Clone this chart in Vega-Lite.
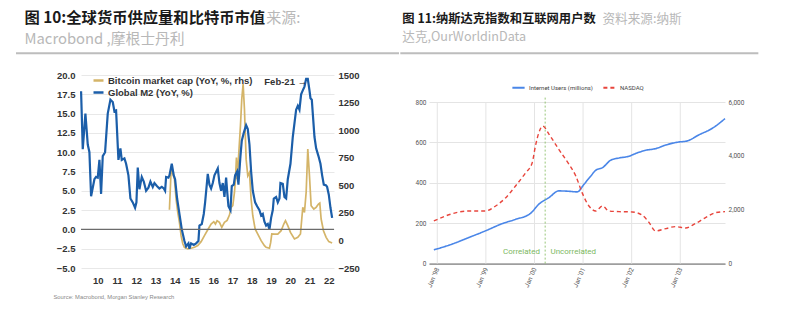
{
  "$schema": "https://vega.github.io/schema/vega-lite/v6.json",
  "background": "white",
  "padding": {"left": 14, "top": 11, "right": 0, "bottom": 0},
  "spacing": -2,
  "config": {"view": {"stroke": null}, "font": "Liberation Sans", "scale": {"nice": false}},
  "resolve": {"scale": {"color": "independent", "strokeDash": "independent"}, "legend": {"color": "independent", "strokeDash": "independent"}},
  "datasets": {
    "m2": [
      {"t":9.134,"v":17.9},{"t":9.221,"v":10.4},{"t":9.359,"v":15.0},{"t":9.481,"v":11.0},{"t":9.567,"v":10.0},{"t":9.654,"v":4.3},{"t":9.827,"v":6.5},{"t":9.913,"v":6.8},{"t":10.0,"v":6.7},{"t":10.087,"v":9.0},{"t":10.173,"v":4.6},{"t":10.26,"v":9.5},{"t":10.381,"v":10.0},{"t":10.519,"v":15.0},{"t":10.658,"v":16.8},{"t":10.779,"v":16.5},{"t":10.866,"v":15.3},{"t":10.952,"v":15.4},{"t":11.074,"v":9.0},{"t":11.177,"v":10.5},{"t":11.247,"v":9.0},{"t":11.385,"v":9.2},{"t":11.472,"v":8.5},{"t":11.593,"v":7.0},{"t":11.697,"v":4.0},{"t":11.818,"v":3.5},{"t":11.939,"v":2.8},{"t":12.009,"v":3.5},{"t":12.078,"v":8.0},{"t":12.165,"v":5.2},{"t":12.286,"v":6.8},{"t":12.39,"v":6.2},{"t":12.511,"v":5.0},{"t":12.632,"v":5.4},{"t":12.736,"v":6.2},{"t":12.857,"v":5.5},{"t":12.944,"v":6.0},{"t":13.082,"v":5.6},{"t":13.203,"v":5.3},{"t":13.325,"v":5.5},{"t":13.429,"v":5.3},{"t":13.498,"v":5.0},{"t":13.55,"v":6.8},{"t":13.671,"v":6.7},{"t":13.723,"v":7.0},{"t":13.844,"v":8.5},{"t":13.948,"v":7.0},{"t":14.017,"v":6.5},{"t":14.121,"v":4.0},{"t":14.242,"v":2.0},{"t":14.364,"v":0.0},{"t":14.502,"v":-1.5},{"t":14.589,"v":-2.2},{"t":14.71,"v":-1.8},{"t":14.762,"v":-2.5},{"t":14.848,"v":-1.8},{"t":14.987,"v":-2.0},{"t":15.108,"v":-1.8},{"t":15.229,"v":-1.5},{"t":15.281,"v":0.5},{"t":15.403,"v":0.7},{"t":15.506,"v":2.0},{"t":15.576,"v":3.5},{"t":15.714,"v":7.2},{"t":15.801,"v":5.8},{"t":15.887,"v":5.3},{"t":15.974,"v":6.0},{"t":16.061,"v":7.0},{"t":16.234,"v":7.9},{"t":16.32,"v":6.0},{"t":16.407,"v":5.0},{"t":16.494,"v":6.0},{"t":16.58,"v":4.2},{"t":16.667,"v":6.7},{"t":16.719,"v":5.0},{"t":16.788,"v":3.0},{"t":16.892,"v":2.5},{"t":16.961,"v":5.6},{"t":17.065,"v":5.8},{"t":17.134,"v":7.0},{"t":17.238,"v":7.5},{"t":17.307,"v":5.8},{"t":17.411,"v":9.5},{"t":17.48,"v":11.5},{"t":17.584,"v":12.5},{"t":17.706,"v":13.5},{"t":17.792,"v":13.0},{"t":17.879,"v":11.0},{"t":17.965,"v":7.5},{"t":18.052,"v":5.0},{"t":18.173,"v":3.5},{"t":18.277,"v":3.0},{"t":18.398,"v":2.5},{"t":18.485,"v":1.8},{"t":18.571,"v":2.0},{"t":18.658,"v":1.0},{"t":18.745,"v":0.5},{"t":18.831,"v":0.7},{"t":18.918,"v":0.0},{"t":19.004,"v":1.5},{"t":19.091,"v":2.5},{"t":19.143,"v":4.0},{"t":19.264,"v":4.2},{"t":19.351,"v":3.5},{"t":19.437,"v":4.0},{"t":19.489,"v":6.0},{"t":19.61,"v":5.9},{"t":19.697,"v":4.2},{"t":19.784,"v":4.0},{"t":19.87,"v":6.5},{"t":20.009,"v":8.5},{"t":20.13,"v":12.0},{"t":20.303,"v":15.5},{"t":20.39,"v":16.0},{"t":20.476,"v":15.5},{"t":20.563,"v":17.5},{"t":20.649,"v":18.0},{"t":20.736,"v":18.5},{"t":20.823,"v":19.5},{"t":20.909,"v":19.5},{"t":20.996,"v":18.0},{"t":21.048,"v":17.0},{"t":21.117,"v":16.8},{"t":21.169,"v":15.0},{"t":21.255,"v":12.0},{"t":21.342,"v":10.5},{"t":21.463,"v":9.5},{"t":21.567,"v":8.5},{"t":21.654,"v":7.0},{"t":21.74,"v":5.8},{"t":21.861,"v":5.7},{"t":21.913,"v":5.5},{"t":22.0,"v":4.5},{"t":22.087,"v":2.8},{"t":22.173,"v":1.5}
    ],
    "btc": [
      {"t":13.723,"cap":278},{"t":13.81,"cap":640},{"t":13.844,"cap":631},{"t":13.983,"cap":556},{"t":14.069,"cap":375},{"t":14.156,"cap":254},{"t":14.242,"cap":163},{"t":14.329,"cap":43},{"t":14.416,"cap":-30},{"t":14.502,"cap":-62},{"t":14.675,"cap":-77},{"t":14.848,"cap":-71},{"t":15.022,"cap":-62},{"t":15.195,"cap":-47},{"t":15.368,"cap":-11},{"t":15.541,"cap":43},{"t":15.714,"cap":97},{"t":15.887,"cap":149},{"t":16.026,"cap":170},{"t":16.113,"cap":149},{"t":16.199,"cap":179},{"t":16.32,"cap":164},{"t":16.442,"cap":118},{"t":16.58,"cap":164},{"t":16.719,"cap":182},{"t":16.84,"cap":230},{"t":16.926,"cap":300},{"t":17.013,"cap":315},{"t":17.1,"cap":435},{"t":17.152,"cap":556},{"t":17.203,"cap":752},{"t":17.238,"cap":556},{"t":17.307,"cap":737},{"t":17.411,"cap":1039},{"t":17.48,"cap":1281},{"t":17.55,"cap":1417},{"t":17.619,"cap":1190},{"t":17.706,"cap":737},{"t":17.792,"cap":586},{"t":17.879,"cap":616},{"t":17.965,"cap":375},{"t":18.052,"cap":224},{"t":18.173,"cap":104},{"t":18.312,"cap":58},{"t":18.485,"cap":-2},{"t":18.658,"cap":-47},{"t":18.745,"cap":-62},{"t":18.918,"cap":-71},{"t":18.98,"cap":-20},{"t":19.039,"cap":60},{"t":19.177,"cap":58},{"t":19.351,"cap":58},{"t":19.524,"cap":88},{"t":19.662,"cap":149},{"t":19.749,"cap":179},{"t":19.87,"cap":134},{"t":20.009,"cap":73},{"t":20.216,"cap":13},{"t":20.39,"cap":28},{"t":20.528,"cap":58},{"t":20.649,"cap":300},{"t":20.736,"cap":254},{"t":20.823,"cap":435},{"t":20.909,"cap":828},{"t":20.996,"cap":586},{"t":21.082,"cap":315},{"t":21.221,"cap":285},{"t":21.342,"cap":300},{"t":21.463,"cap":330},{"t":21.532,"cap":339},{"t":21.602,"cap":194},{"t":21.723,"cap":88},{"t":21.861,"cap":28},{"t":22.0,"cap":-11},{"t":22.173,"cap":-23}
    ],
    "users": [
      {"t":1997.93,"v":68},{"t":1998.31,"v":97},{"t":1998.65,"v":129},{"t":1998.99,"v":162},{"t":1999.34,"v":198},{"t":1999.61,"v":219},{"t":1999.92,"v":249},{"t":2000.09,"v":294},{"t":2000.3,"v":327},{"t":2000.5,"v":360},{"t":2000.71,"v":358},{"t":2000.88,"v":355},{"t":2001.02,"v":393},{"t":2001.16,"v":434},{"t":2001.26,"v":462},{"t":2001.4,"v":475},{"t":2001.57,"v":512},{"t":2001.74,"v":523},{"t":2001.94,"v":531},{"t":2002.08,"v":545},{"t":2002.29,"v":561},{"t":2002.49,"v":569},{"t":2002.7,"v":587},{"t":2002.94,"v":601},{"t":2003.14,"v":607},{"t":2003.38,"v":637},{"t":2003.66,"v":670},{"t":2003.92,"v":718}
    ],
    "nasdaq": [
      {"t":1997.93,"n":1583},{"t":1998.17,"n":1769},{"t":1998.45,"n":1917},{"t":1998.65,"n":1954},{"t":1998.99,"n":1954},{"t":1999.2,"n":2140},{"t":1999.41,"n":2449},{"t":1999.61,"n":2882},{"t":1999.82,"n":3377},{"t":1999.95,"n":3723},{"t":2000.02,"n":4367},{"t":2000.09,"n":4861},{"t":2000.17,"n":5109},{"t":2000.3,"n":4800},{"t":2000.5,"n":4243},{"t":2000.71,"n":3686},{"t":2000.85,"n":3253},{"t":2000.98,"n":2635},{"t":2001.12,"n":2140},{"t":2001.26,"n":1954},{"t":2001.4,"n":2140},{"t":2001.53,"n":1954},{"t":2001.74,"n":1930},{"t":2002.01,"n":1917},{"t":2002.22,"n":1794},{"t":2002.36,"n":1521},{"t":2002.49,"n":1212},{"t":2002.7,"n":1299},{"t":2002.9,"n":1373},{"t":2003.11,"n":1324},{"t":2003.32,"n":1497},{"t":2003.52,"n":1707},{"t":2003.73,"n":1893},{"t":2003.92,"n":1930}
    ]
  },
  "hconcat": [
    {
      "width": 253,
      "height": 193,
      "title": {
        "text": "图 10:全球货币供应量和比特币市值",
        "subtitle": "Macrobond ,摩根士丹利",
        "anchor": "start", "frame": "group", "dx": -56.5, "offset": -35.1,
        "font": "Noto Sans CJK SC", "fontSize": 15.3, "fontWeight": "bold", "color": "#1a1a1a",
        "subtitleFont": "Noto Sans CJK SC", "subtitleFontSize": 14.8, "subtitleColor": "#b8b8b8", "subtitlePadding": 5
      },
      "encoding": {
        "x": {"field": "t", "type": "quantitative", "scale": {"domain": [9.13, 22.27], "nice": false},
          "axis": {"values": [10,11,12,13,14,15,16,17,18,19,20,21,22], "format": "d", "grid": false, "domain": false, "ticks": false, "labelOverlap": false,
            "labelFont": "Liberation Sans", "labelFontSize": 9.5, "labelFontWeight": "bold", "labelColor": "#333", "labelPadding": 7,
            "title": "Source: Macrobond, Morgan Stanley Research", "titleFont": "Liberation Sans", "titleFontSize": 5.8, "titleFontWeight": "normal",
            "titleColor": "#888", "titleX": -28, "titleY": 28.7, "titleAlign": "left", "titleBaseline": "middle", "titleAnchor": "start"}}
      },
      "layer": [
        {
          "data": {"name": "btc"},
          "transform": [{"calculate": "'Bitcoin market cap (YoY, %, rhs)'", "as": "series"}],
          "mark": {"type": "line", "strokeWidth": 1.7},
          "encoding": {
            "y": {"field": "cap", "type": "quantitative", "scale": {"domain": [-250, 1500], "nice": false},
              "axis": {"orient": "right", "values": [-250,0,250,500,750,1000,1250,1500], "format": "d", "grid": false, "domain": false, "ticks": false, "labelOverlap": false,
                "labelFontSize": 9.5, "labelFontWeight": "bold", "labelColor": "#333", "labelPadding": 4, "title": null}},
            "color": {"field": "series", "type": "nominal",
              "scale": {"domain": ["Bitcoin market cap (YoY, %, rhs)", "Global M2 (YoY, %)"], "range": ["#d4b468", "#1b5ea9"]},
              "legend": {"orient": "none", "legendX": 11, "legendY": -1, "title": null, "symbolType": "stroke", "symbolSize": 100, "symbolStrokeWidth": 2.5,
                "labelFont": "Liberation Sans", "labelFontSize": 9.5, "labelFontWeight": "bold", "labelColor": "#333", "rowPadding": -1, "labelOffset": 3, "padding": 0}}
          }
        },
        {
          "encoding": {
            "y": {"field": "v", "type": "quantitative", "scale": {"domain": [-5, 20], "nice": false},
              "axis": {"orient": "left", "values": [-5,-2.5,0,2.5,5,7.5,10,12.5,15,17.5,20], "format": ".1f", "grid": true, "gridColor": "#e2e2e2", "gridWidth": 0.8,
                "domain": false, "ticks": false, "labelOverlap": false, "labelFontSize": 9.5, "labelFontWeight": "bold", "labelColor": "#333", "labelPadding": 6, "title": null}}
          },
          "layer": [
            {
              "data": {"name": "m2"},
              "transform": [{"calculate": "'Global M2 (YoY, %)'", "as": "series"}],
              "mark": {"type": "line", "strokeWidth": 2.2},
              "encoding": {"color": {"field": "series", "type": "nominal"}}
            },
            {
              "data": {"values": [{"t": 9.13, "t2": 22.27, "v": 0}]},
              "mark": {"type": "rule", "color": "#6b6b6b", "strokeWidth": 1.2},
              "encoding": {"x2": {"field": "t2"}}
            },
            {
              "data": {"values": [{"t": 18.65, "v": 19.07, "label": "Feb-21 →"}]},
              "mark": {"type": "text", "align": "left", "baseline": "middle", "fontSize": 9.5, "fontWeight": "bold", "color": "#333"},
              "encoding": {"text": {"field": "label"}}
            },
            {
              "data": {"values": [{"t": 5.754, "t2": 25.646, "v": 22.81}]},
              "mark": {"type": "rule", "color": "#bdbdbd", "strokeWidth": 2},
              "encoding": {"x2": {"field": "t2"}}
            },
            {
              "data": {"values": [{"t": 18.75, "v": 27.32, "label": "来源:"}]},
              "mark": {"type": "text", "align": "left", "baseline": "middle", "font": "Noto Sans CJK SC", "fontSize": 15, "color": "#b8b8b8"},
              "encoding": {"text": {"field": "label"}}
            }
          ]
        }
      ],
      "resolve": {"scale": {"y": "independent"}}
    },
    {
      "width": 296,
      "height": 188.6,
      "title": {
        "text": "图 11:纳斯达克指数和互联网用户数",
        "subtitle": "达克,OurWorldinData",
        "anchor": "start", "frame": "group", "dx": -26.7, "offset": -30.6,
        "font": "Noto Sans CJK SC", "fontSize": 12.3, "fontWeight": "bold", "color": "#1a1a1a",
        "subtitleFont": "Noto Sans CJK SC", "subtitleFontSize": 12.6, "subtitleColor": "#b8b8b8", "subtitlePadding": 5.7
      },
      "encoding": {
        "x": {"field": "t", "type": "quantitative", "scale": {"domain": [1997.83, 2003.92], "nice": false},
          "axis": {"values": [1998,1999,2000,2001,2002,2003], "labelExpr": "\"Jan '\" + substring(toString(datum.value), 2)", "labelAngle": -66,
            "labelFont": "Roboto", "labelFontSize": 6.5, "labelColor": "#555", "labelPadding": 4, "grid": false, "ticks": false, "labelOverlap": false,
            "domain": true, "domainColor": "#9e9e9e", "domainWidth": 1.8, "title": null}}
      },
      "layer": [
        {
          "encoding": {
            "y": {"field": "v", "type": "quantitative", "scale": {"domain": [0, 933.7], "nice": false},
              "axis": {"orient": "left", "values": [0,200,400,600,800], "grid": true, "gridColor": "#e4e4e4", "domain": false, "ticks": false, "labelOverlap": false,
                "labelFont": "Roboto", "labelFontSize": 6.5, "labelColor": "#555", "labelPadding": 3, "title": null}}
          },
          "layer": [
            {
              "data": {"values": [{"t": 1998, "v": 0, "v2": 800}, {"t": 1999, "v": 0, "v2": 800}, {"t": 2000, "v": 0, "v2": 800}, {"t": 2001, "v": 0, "v2": 800}, {"t": 2002, "v": 0, "v2": 800}, {"t": 2003, "v": 0, "v2": 800}]},
              "mark": {"type": "rule", "color": "#e4e4e4", "strokeWidth": 1},
              "encoding": {"y2": {"field": "v2"}}
            },
            {
              "data": {"name": "users"},
              "transform": [{"calculate": "'Internet Users (millions)'", "as": "series"}],
              "mark": {"type": "line", "interpolate": "monotone", "strokeWidth": 1.6},
              "encoding": {
                "color": {"field": "series", "type": "nominal",
                  "scale": {"domain": ["Internet Users (millions)", "NASDAQ"], "range": ["#4a86e8", "#e8453c"]},
                  "legend": {"orient": "none", "legendX": 82, "legendY": 5, "direction": "horizontal", "title": null, "symbolType": "stroke", "symbolSize": 150,
                    "symbolStrokeWidth": 2, "labelFont": "Roboto", "labelFontSize": 6, "labelColor": "#444", "columnPadding": 6, "labelOffset": 3, "padding": 0}},
                "strokeDash": {"field": "series", "type": "nominal",
                  "scale": {"domain": ["Internet Users (millions)", "NASDAQ"], "range": [[1, 0], [4, 3]]},
                  "legend": {"orient": "none", "legendX": 82, "legendY": 5, "direction": "horizontal", "title": null, "symbolType": "stroke", "symbolSize": 150,
                    "symbolStrokeWidth": 2, "labelFont": "Roboto", "labelFontSize": 6, "labelColor": "#444", "columnPadding": 6, "labelOffset": 3, "padding": 0}}
              }
            },
            {
              "data": {"values": [{"t": 2000.22, "v": 0, "v2": 822}]},
              "mark": {"type": "rule", "color": "#8cc06a", "strokeDash": [2, 2], "strokeWidth": 0.9},
              "encoding": {"y2": {"field": "v2"}}
            },
            {
              "data": {"values": [{"t": 2000.113, "v": 57, "label": "Correlated"}]},
              "mark": {"type": "text", "align": "right", "baseline": "middle", "font": "Roboto", "fontSize": 8, "color": "#7cb85f"},
              "encoding": {"text": {"field": "label"}}
            },
            {
              "data": {"values": [{"t": 2000.33, "v": 57, "label": "Uncorrelated"}]},
              "mark": {"type": "text", "align": "left", "baseline": "middle", "font": "Roboto", "fontSize": 8, "color": "#7cb85f"},
              "encoding": {"text": {"field": "label"}}
            },
            {
              "data": {"values": [{"t": 1997.24, "t2": 2004.606, "v": 1041.1}]},
              "mark": {"type": "rule", "color": "#bdbdbd", "strokeWidth": 2},
              "encoding": {"x2": {"field": "t2"}}
            },
            {
              "data": {"values": [{"t": 2001.40, "v": 1209.5, "label": "资料来源:纳斯"}]},
              "mark": {"type": "text", "align": "left", "baseline": "middle", "font": "Noto Sans CJK SC", "fontSize": 12.6, "color": "#b8b8b8"},
              "encoding": {"text": {"field": "label"}}
            }
          ]
        },
        {
          "data": {"name": "nasdaq"},
          "transform": [{"calculate": "'NASDAQ'", "as": "series"}],
          "mark": {"type": "line", "interpolate": "monotone", "strokeWidth": 1.4},
          "encoding": {
            "y": {"field": "n", "type": "quantitative", "scale": {"domain": [0, 7003], "nice": false},
              "axis": {"orient": "right", "values": [0,2000,4000,6000], "labelExpr": "format(datum.value, ',')", "grid": false, "domain": false, "ticks": false, "labelOverlap": false,
                "labelFont": "Roboto", "labelFontSize": 6.5, "labelColor": "#555", "labelPadding": 3, "title": null}},
            "color": {"field": "series", "type": "nominal"},
            "strokeDash": {"field": "series", "type": "nominal"}
          }
        }
      ],
      "resolve": {"scale": {"y": "independent"}}
    }
  ]
}
